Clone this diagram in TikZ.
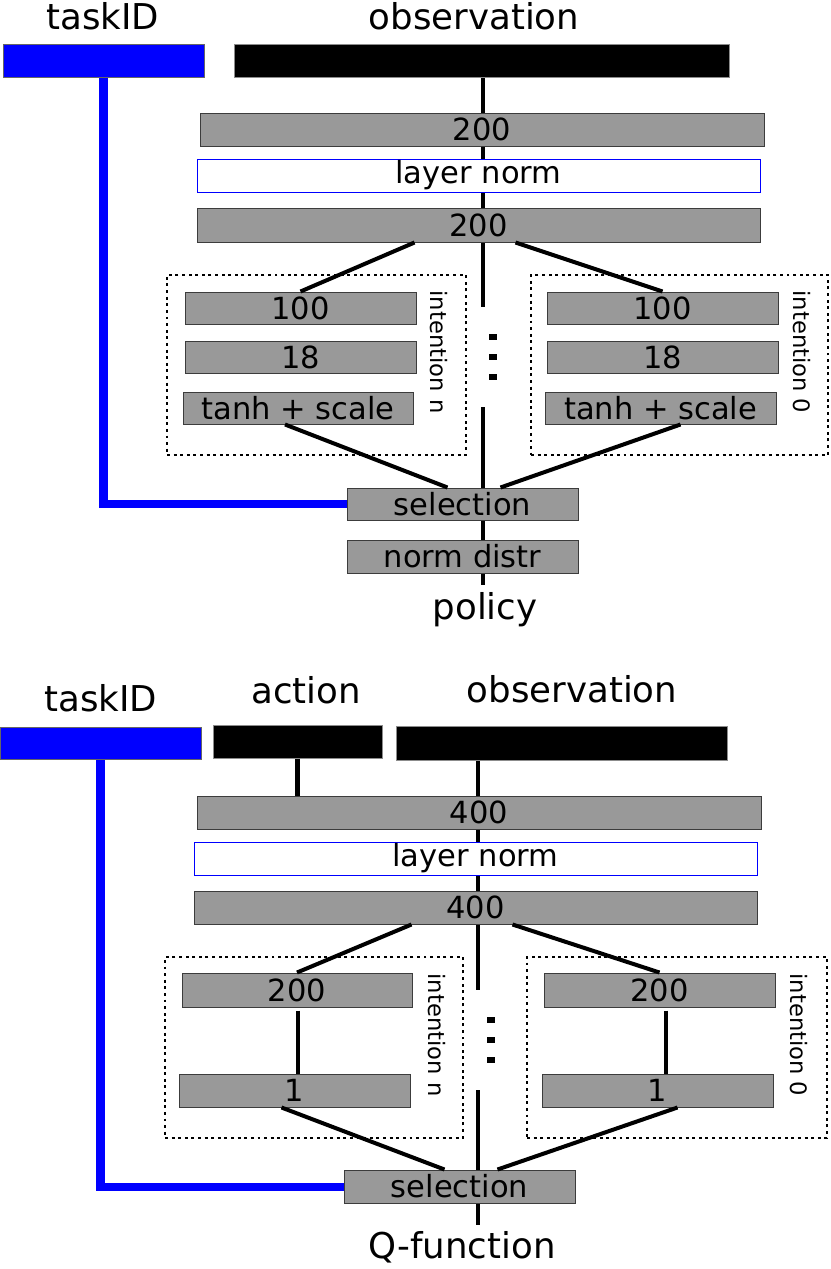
\documentclass[tikz,border=0pt]{standalone}
\usepackage{fontspec}
\setmainfont{DejaVu Sans}
\usetikzlibrary{fit,calc,backgrounds}
\definecolor{layergray}{HTML}{999999}
\definecolor{layeredge}{HTML}{3C3C3C}
\definecolor{taskblue}{HTML}{0000FF}
\newcommand{\lblsize}{\fontsize{25.3}{30}\selectfont}
\newcommand{\boxsize}{\fontsize{21.7}{26}\selectfont}
\newcommand{\intsize}{\fontsize{16.1}{19}\selectfont}

\begin{document}
\begin{tikzpicture}[
  x=0.025cm,
  y=-0.025cm,
  every node/.style={text=black},
  every label/.style={font=\boxsize, inner sep=0pt},
  layer/.style={draw=layeredge, fill=layergray, line width=0.7pt, inner sep=0pt},
  normlayer/.style={draw=taskblue, fill=white, line width=0.7pt, inner sep=0pt},
  inbar/.style={draw=black!45, fill=black, line width=0.7pt, inner sep=0pt},
  taskbar/.style={draw=black!60, fill=taskblue, line width=0.7pt, inner sep=0pt},
  intent/.style={draw, line width=2.1pt, dash pattern=on 2.1pt off 2.6pt, inner sep=0pt},
  lbl/.style={font=\lblsize, anchor=base, inner sep=0pt},
  intlbl/.style={font=\intsize, rotate=-90, inner sep=0pt},
  wire/.style={line width=2.85pt},
  taskwire/.style={taskblue, line width=5.7pt},
  dotsq/.style={fill=black, inner sep=0pt, minimum width=5.7pt, minimum height=4.3pt}
]
  \useasboundingbox (0,0) rectangle (830,1269);

  % ---- policy: inputs ----
  \node[taskbar, fit={(3,44) (204,77)}] (pTask) {};
  \node[inbar, fit={(234,44) (729,77)}] (pObs) {};
  \node[lbl] (pTaskLbl) at (103,29) {taskID};
  \node[lbl] (pObsLbl) at (474,29) {observation};

  % ---- policy: shared layers ----
  \node[layer, fit={(200,113) (764,146)}, label=center:200] (pH1) {};
  \node[normlayer, fit={(197,159) (760,192)}, label=center:layer norm] (pNorm) {};
  \node[layer, fit={(197,208) (760,242)}, label=center:200] (pH2) {};

  % ---- policy: intentions ----
  \node[intent, fit={(167,275) (466,455)}] (pIntN) {};
  \node[layer, fit={(185,292) (416,324)}, label=center:100] (pA1) {};
  \node[layer, fit={(185,341) (416,373)}, label=center:18] (pA2) {};
  \node[layer, fit={(183,392) (413,424)}, label=center:tanh + scale] (pA3) {};
  \node[intlbl] (pIntNLbl) at (439,352) {intention n};

  \node[intent, fit={(531,275) (828,455)}] (pInt0) {};
  \node[layer, fit={(547,292) (778,324)}, label=center:100] (pB1) {};
  \node[layer, fit={(547,341) (778,373)}, label=center:18] (pB2) {};
  \node[layer, fit={(545,392) (776,424)}, label=center:tanh + scale] (pB3) {};
  \node[intlbl] (pInt0Lbl) at (802,352) {intention 0};

  \foreach \y [count=\i] in {337,357,377}
    \node[dotsq] (pDot\i) at (493,\y) {};

  % ---- policy: output ----
  \node[layer, fit={(347,488) (578,520)}, label=center:selection] (pSel) {};
  \node[layer, fit={(347,540) (578,573)}, label=center:norm distr] (pDistr) {};
  \node[lbl] (pOut) at (485,619) {policy};

  \coordinate (pGapA) at (483,307);
  \coordinate (pGapB) at (483,407);
  \coordinate (pEnd) at (483,585);

  \draw[wire] ($(pH2.south)+(-64,0)$) -- (pA1.north);
  \draw[wire] ($(pH2.south)+(37,0)$) -- (pB1.north);
  \draw[wire] ($(pA3.south)+(-13,0)$) -- ($(pSel.north)+(-15,0)$);
  \draw[wire] ($(pB3.south)+(20,0)$) -- ($(pSel.north)+(38,0)$);

  \begin{scope}[on background layer]
    \draw[wire] (pObs.south -| pGapA) -- (pGapA);
    \draw[wire] (pGapB) -- (pEnd);
    \draw[taskwire] (pTask.south) |- (pSel.west);
  \end{scope}

  % ---- Q-function: inputs ----
  \node[taskbar, fit={(0,727) (201,759)}] (qTask) {};
  \node[inbar, fit={(213,725) (382,758)}] (qAct) {};
  \node[inbar, fit={(396,726) (727,760)}] (qObs) {};
  \node[lbl] (qTaskLbl) at (101,711) {taskID};
  \node[lbl] (qActLbl) at (306,703) {action};
  \node[lbl] (qObsLbl) at (572,702) {observation};

  % ---- Q-function: shared layers ----
  \node[layer, fit={(197,796) (761,829)}, label=center:400] (qH1) {};
  \node[normlayer, fit={(194,842) (757,875)}, label=center:layer norm] (qNorm) {};
  \node[layer, fit={(194,891) (757,924)}, label=center:400] (qH2) {};

  % ---- Q-function: intentions ----
  \node[intent, fit={(165,957) (463,1138)}] (qIntN) {};
  \node[layer, fit={(182,973) (412,1007)}, label=center:200] (qA1) {};
  \node[layer, fit={(179,1074) (410,1107)}, label=center:1] (qA2) {};
  \node[intlbl] (qIntNLbl) at (437,1035) {intention n};

  \node[intent, fit={(527,957) (827,1138)}] (qInt0) {};
  \node[layer, fit={(544,973) (775,1007)}, label=center:200] (qB1) {};
  \node[layer, fit={(542,1074) (773,1107)}, label=center:1] (qB2) {};
  \node[intlbl] (qInt0Lbl) at (799,1035) {intention 0};

  \foreach \y [count=\i] in {1020,1040,1060}
    \node[dotsq] (qDot\i) at (491,\y) {};

  % ---- Q-function: output ----
  \node[layer, fit={(344,1170) (575,1203)}, label=center:selection] (qSel) {};
  \node[lbl] (qOut) at (462,1258) {Q-function};

  \coordinate (qGapA) at (478,990);
  \coordinate (qGapB) at (478,1090);
  \coordinate (qEnd) at (478,1225);

  \draw[wire] (qAct.south) -- (qAct.south |- qH1.north);
  \draw[wire] ($(qH2.south)+(-64,0)$) -- (qA1.north);
  \draw[wire] ($(qH2.south)+(37,0)$) -- (qB1.north);
  \draw[wire] ($(qA1.south)+(1,3)$) -- ($(qA1.south |- qA2.north)+(1,0)$);
  \draw[wire] ($(qB1.south)+(6,3)$) -- ($(qB1.south |- qB2.north)+(6,0)$);
  \draw[wire] ($(qA2.south)+(-13,0)$) -- ($(qSel.north)+(-15,0)$);
  \draw[wire] ($(qB2.south)+(20,0)$) -- ($(qSel.north)+(38,0)$);

  \begin{scope}[on background layer]
    \draw[wire] (qObs.south -| qGapA) -- (qGapA);
    \draw[wire] (qGapB) -- (qEnd);
    \draw[taskwire] (qTask.south) |- (qSel.west);
  \end{scope}
\end{tikzpicture}
\end{document}
